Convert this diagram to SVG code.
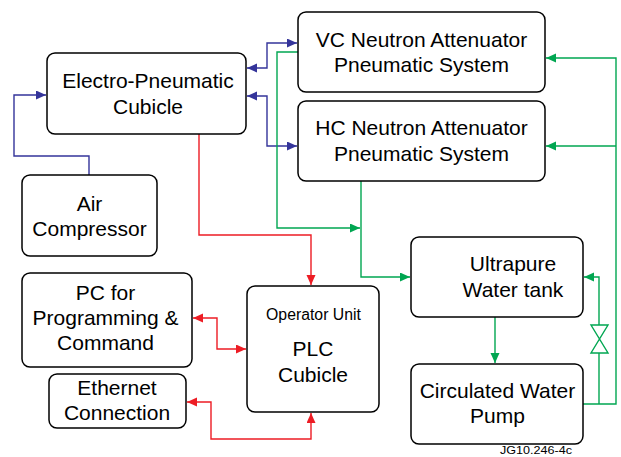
<svg xmlns="http://www.w3.org/2000/svg" width="621" height="457" viewBox="0 0 621 457">
<style>
.box{fill:#fff;stroke:#000;stroke-width:1.5}
.t{font-family:"Liberation Sans",Arial,sans-serif;font-size:21px;fill:#000;text-anchor:middle}
.s{font-size:15.8px}
.c{fill:none;stroke-width:1.4}
.b{stroke:#34349a}
.g{stroke:#00a651}
.r{stroke:#ed1c24}
</style>
<defs>
<marker id="ab" markerUnits="userSpaceOnUse" markerWidth="11" markerHeight="10" refX="10" refY="4.5" orient="auto-start-reverse" viewBox="0 0 11 10"><path d="M0,0 L10,4.5 L0,9 z" fill="#34349a"/></marker>
<marker id="ag" markerUnits="userSpaceOnUse" markerWidth="11" markerHeight="10" refX="10" refY="4.5" orient="auto-start-reverse" viewBox="0 0 11 10"><path d="M0,0 L10,4.5 L0,9 z" fill="#00a651"/></marker>
<marker id="ar" markerUnits="userSpaceOnUse" markerWidth="11" markerHeight="10" refX="10" refY="4.5" orient="auto-start-reverse" viewBox="0 0 11 10"><path d="M0,0 L10,4.5 L0,9 z" fill="#ed1c24"/></marker>
</defs>
<g id="connectors">
<path class="c b" d="M89,175 V156 H14 V95 H46" marker-end="url(#ab)"/>
<path class="c b" d="M247,68 H267 V43 H297" marker-start="url(#ab)" marker-end="url(#ab)"/>
<path class="c b" d="M247,96 H267 V146 H297" marker-start="url(#ab)" marker-end="url(#ab)"/>
<path class="c g" d="M298,52 H277 V228 H360" marker-end="url(#ag)"/>
<path class="c g" d="M361,181 V277 H410" marker-end="url(#ag)"/>
<path class="c g" d="M495,317 V363" marker-end="url(#ag)"/>
<path class="c g" d="M583,404 H616 V58 H546" marker-end="url(#ag)"/>
<path class="c g" d="M616,146 H546" marker-end="url(#ag)"/>
<path class="c g" d="M599,404 V353"/>
<path class="c g" d="M599,325 V277 H584" marker-end="url(#ag)"/>
<path class="c g" d="M591,325 H608 L591,353 H608 Z" fill="#fff"/>
<path class="c r" d="M199,134 V235 H311 V285" marker-end="url(#ar)"/>
<path class="c r" d="M193,318 H217 V349 H246" marker-start="url(#ar)" marker-end="url(#ar)"/>
<path class="c r" d="M187,402 H211 V439 H311 V413" marker-start="url(#ar)" marker-end="url(#ar)"/>
</g>
<g id="ep"><rect class="box" x="47" y="53" width="199" height="81" rx="8"/><text class="t" x="148" y="88">Electro-Pneumatic</text><text class="t" x="148" y="114">Cubicle</text></g>
<g id="vc"><rect class="box" x="298" y="12" width="247" height="80" rx="8"/><text class="t" x="421.5" y="47">VC Neutron Attenuator</text><text class="t" x="421.5" y="72">Pneumatic System</text></g>
<g id="hc"><rect class="box" x="298" y="101" width="247" height="80" rx="8"/><text class="t" x="421.5" y="135">HC Neutron Attenuator</text><text class="t" x="421.5" y="161">Pneumatic System</text></g>
<g id="air"><rect class="box" x="22" y="175" width="135" height="81" rx="8"/><text class="t" x="89.5" y="211">Air</text><text class="t" x="89.5" y="236">Compressor</text></g>
<g id="pc"><rect class="box" x="22" y="273" width="170" height="94" rx="8"/><text class="t" x="105.5" y="300">PC for</text><text class="t" x="105.5" y="325">Programming &amp;</text><text class="t" x="105.5" y="350">Command</text></g>
<g id="eth"><rect class="box" x="49" y="374" width="137" height="54" rx="8"/><text class="t" x="117" y="395">Ethernet</text><text class="t" x="117" y="420">Connection</text></g>
<g id="plc"><rect class="box" x="247" y="286" width="132" height="126" rx="8"/><text class="t s" x="313.5" y="320">Operator Unit</text><text class="t" x="313" y="356">PLC</text><text class="t" x="313" y="382">Cubicle</text></g>
<g id="tank"><rect class="box" x="411" y="237" width="172" height="80" rx="8"/><text class="t" x="513" y="271">Ultrapure</text><text class="t" x="513" y="297">Water tank</text></g>
<g id="pump"><rect class="box" x="411" y="364" width="172" height="80" rx="8"/><text class="t" x="497.5" y="398">Circulated Water</text><text class="t" x="497.5" y="423">Pump</text></g>
<text x="500" y="454" font-family="Liberation Sans,Arial,sans-serif" font-size="11" textLength="72" lengthAdjust="spacingAndGlyphs">JG10.246-4c</text>
</svg>
